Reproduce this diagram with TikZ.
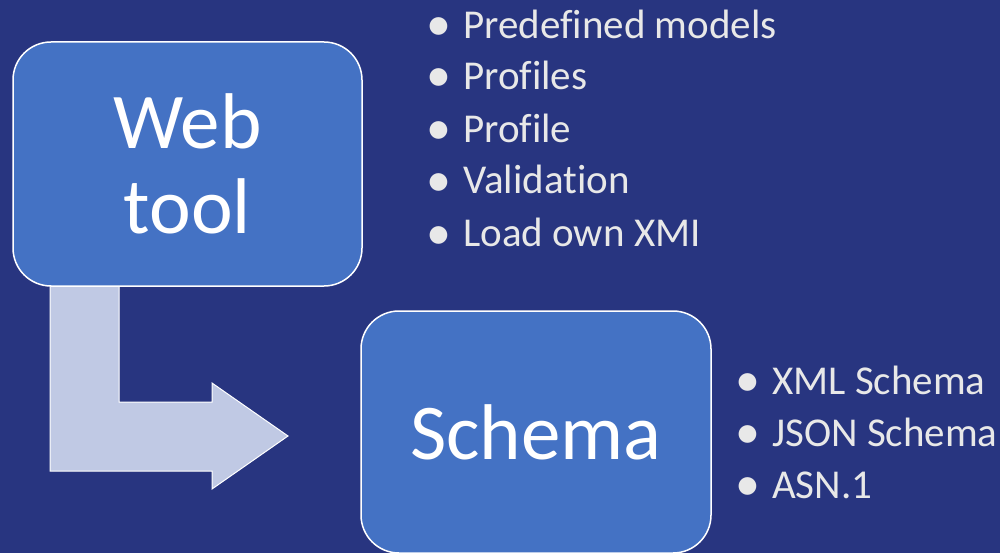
\documentclass[tikz,border=0pt]{standalone}
\usepackage{fontspec}
\setmainfont[Ligatures=NoCommon]{Carlito}
\definecolor{bg}{HTML}{283580}
\definecolor{boxfill}{HTML}{4472C4}
\definecolor{arrowfill}{HTML}{C0C9E4}
\definecolor{txt}{HTML}{E8E8E8}
\newcommand{\bulmark}{\llap{{\fontsize{50}{50}\selectfont\raisebox{-2pt}{•}}\hspace{11.5pt}}}
\begin{document}
\begin{tikzpicture}[x=1pt,y=-1pt,
  bigbox/.style={draw=white, line width=1.5pt, fill=boxfill, rounded corners=38pt,
    text=white, align=center, inner sep=0pt},
  bul/.style={anchor=base west, text=txt, inner sep=0pt, font=\fontsize{41}{50}\selectfont},
  bigfont/.style={font=\fontsize{79}{85}\selectfont},
]
\useasboundingbox (0,0) rectangle (1000,553);
\fill[bg] (0,0) rectangle (1000,553);
% bent arrow
\coordinate (a1) at (50,284);
\draw[white, line width=1pt, fill=arrowfill]
  (a1) -- (119,284) -- (119,402) -- (212,402) -- (212,383) -- (288,436)
  -- (212,489) -- (212,471) -- (50,471) -- cycle;
% Web tool box
\node[bigbox, bigfont, minimum width=349pt, minimum height=244pt] (web) at (187.5,164) {Web\\tool};
% Schema box
\node[bigbox, bigfont, minimum width=350pt, minimum height=242pt] (schema) at (536,432) {Schema};
% bullets top
\node[bul] (b1) at (463,39) {\bulmark Predefined models};
\node[bul] (b2) at (463,90) {\bulmark Profiles};
\node[bul] (b3) at (463,143) {\bulmark Profile};
\node[bul] (b4) at (463,194) {\bulmark Validation};
\node[bul] (b5) at (463,247) {\bulmark Load own XMI};
% bullets right
\node[bul] (c1) at (772,394) {\bulmark XML Schema};
\node[bul] (c2) at (772,446) {\bulmark JSON Schema};
\node[bul] (c3) at (772,498) {\bulmark ASN.1};
\end{tikzpicture}
\end{document}
